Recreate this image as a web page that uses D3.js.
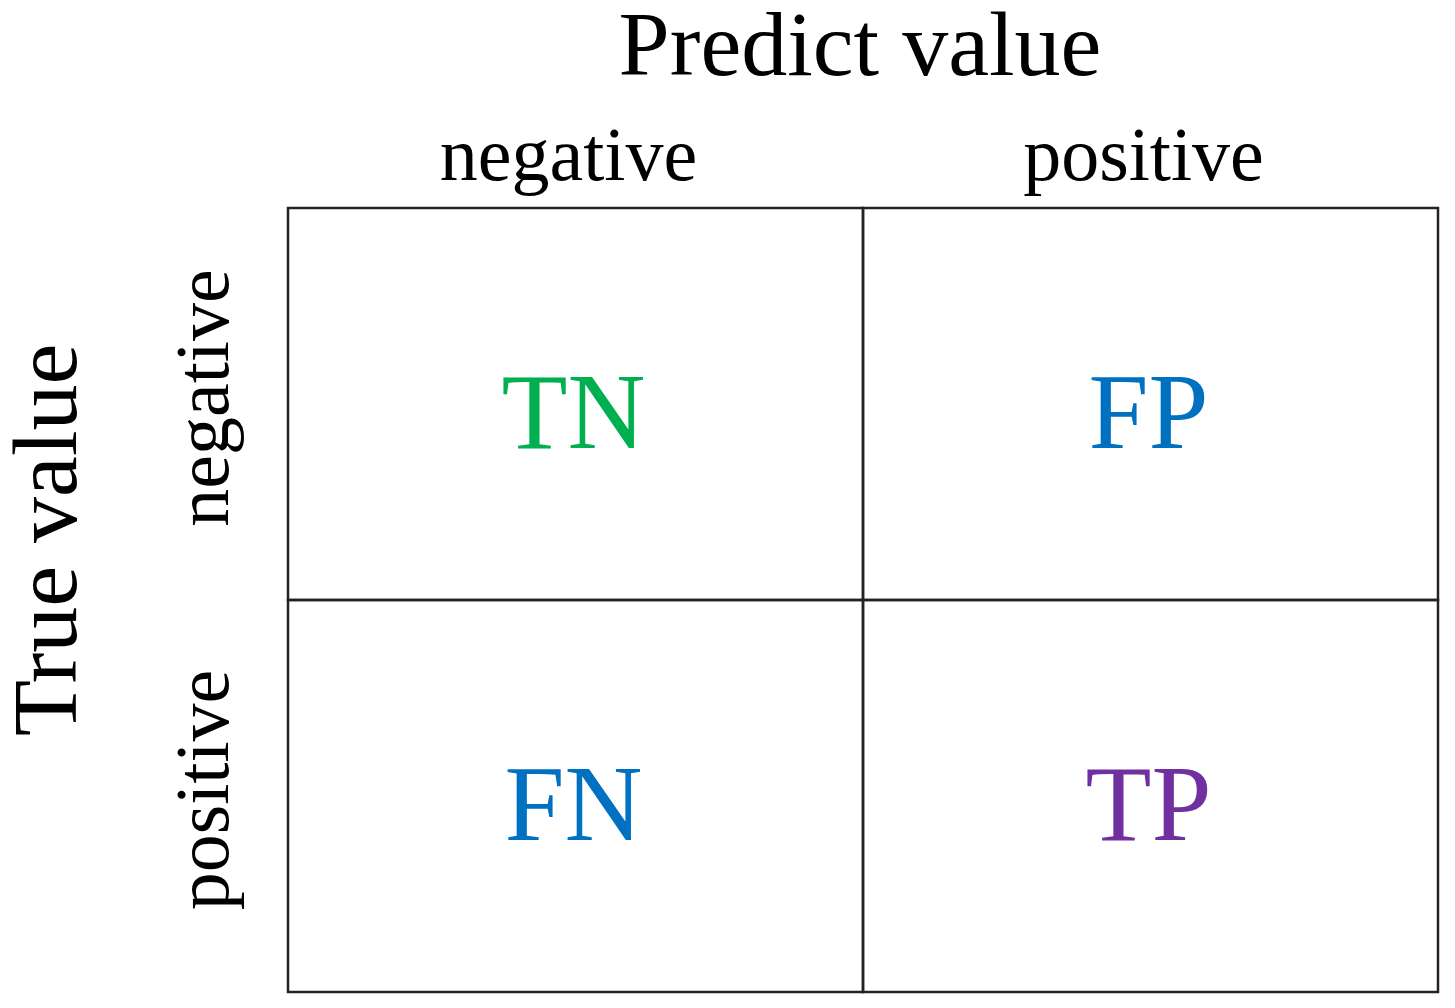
<!DOCTYPE html>
<html>
<head>
<meta charset="utf-8">
<script src="https://cdn.jsdelivr.net/npm/d3@7"></script>
<style>
  body { margin: 0; background: #fff; }
  text { font-family: "Liberation Serif", "Times New Roman", serif; }
</style>
</head>
<body>
<div id="chart"></div>
<script>
var predictLabels = ["negative", "positive"];
var trueLabels = ["negative", "positive"];
var cellNames = [["TN", "FP"], ["FN", "TP"]];
var cellColors = [["#00b050", "#0070c0"], ["#0070c0", "#7030a0"]];

var width = 1455, height = 1008;
var gridLeft = 288, gridRight = 1438, gridTop = 208, gridBottom = 992;

var svg = d3.select("#chart").append("svg")
    .attr("width", width)
    .attr("height", height);

var x = d3.scaleBand().domain([0, 1]).range([gridLeft, gridRight]);
var y = d3.scaleBand().domain([0, 1]).range([gridTop, gridBottom]);

var cells = [];
cellNames.forEach(function(row, i) {
    row.forEach(function(name, j) {
        cells.push({ r: i, c: j, name: name, color: cellColors[i][j] });
    });
});

svg.selectAll(".cell")
    .data(cells)
    .enter()
    .append("rect")
    .attr("class", "cell")
    .attr("x", function(d) { return x(d.c); })
    .attr("y", function(d) { return y(d.r); })
    .attr("width", x.bandwidth())
    .attr("height", y.bandwidth())
    .style("fill", "none")
    .style("stroke", "#222")
    .style("stroke-width", 2.5);

svg.selectAll(".cell-label")
    .data(cells)
    .enter()
    .append("text")
    .attr("x", function(d) { return x(d.c) + x.bandwidth() / 2 - 2; })
    .attr("y", function(d) { return y(d.r) + y.bandwidth() / 2 + 44; })
    .attr("text-anchor", "middle")
    .style("font-size", "108px")
    .style("fill", function(d) { return d.color; })
    .text(function(d) { return d.name; });

// column headers
svg.append("text")
    .attr("x", 860)
    .attr("y", 75)
    .attr("text-anchor", "middle")
    .style("font-size", "92px")
    .text("Predict value");

svg.selectAll(".col-label")
    .data(predictLabels)
    .enter()
    .append("text")
    .attr("x", function(d, i) { return x(i) + x.bandwidth() / 2 - 7; })
    .attr("y", 180)
    .attr("text-anchor", "middle")
    .style("font-size", "76px")
    .text(function(d) { return d; });

// row headers
svg.append("text")
    .attr("transform", "translate(76,540) rotate(-90)")
    .attr("text-anchor", "middle")
    .style("font-size", "92px")
    .text("True value");

svg.selectAll(".row-label")
    .data(trueLabels)
    .enter()
    .append("text")
    .attr("transform", function(d, i) {
        return "translate(228," + (y(i) + y.bandwidth() / 2 - 6) + ") rotate(-90)";
    })
    .attr("text-anchor", "middle")
    .style("font-size", "76px")
    .text(function(d) { return d; });
</script>
</body>
</html>
